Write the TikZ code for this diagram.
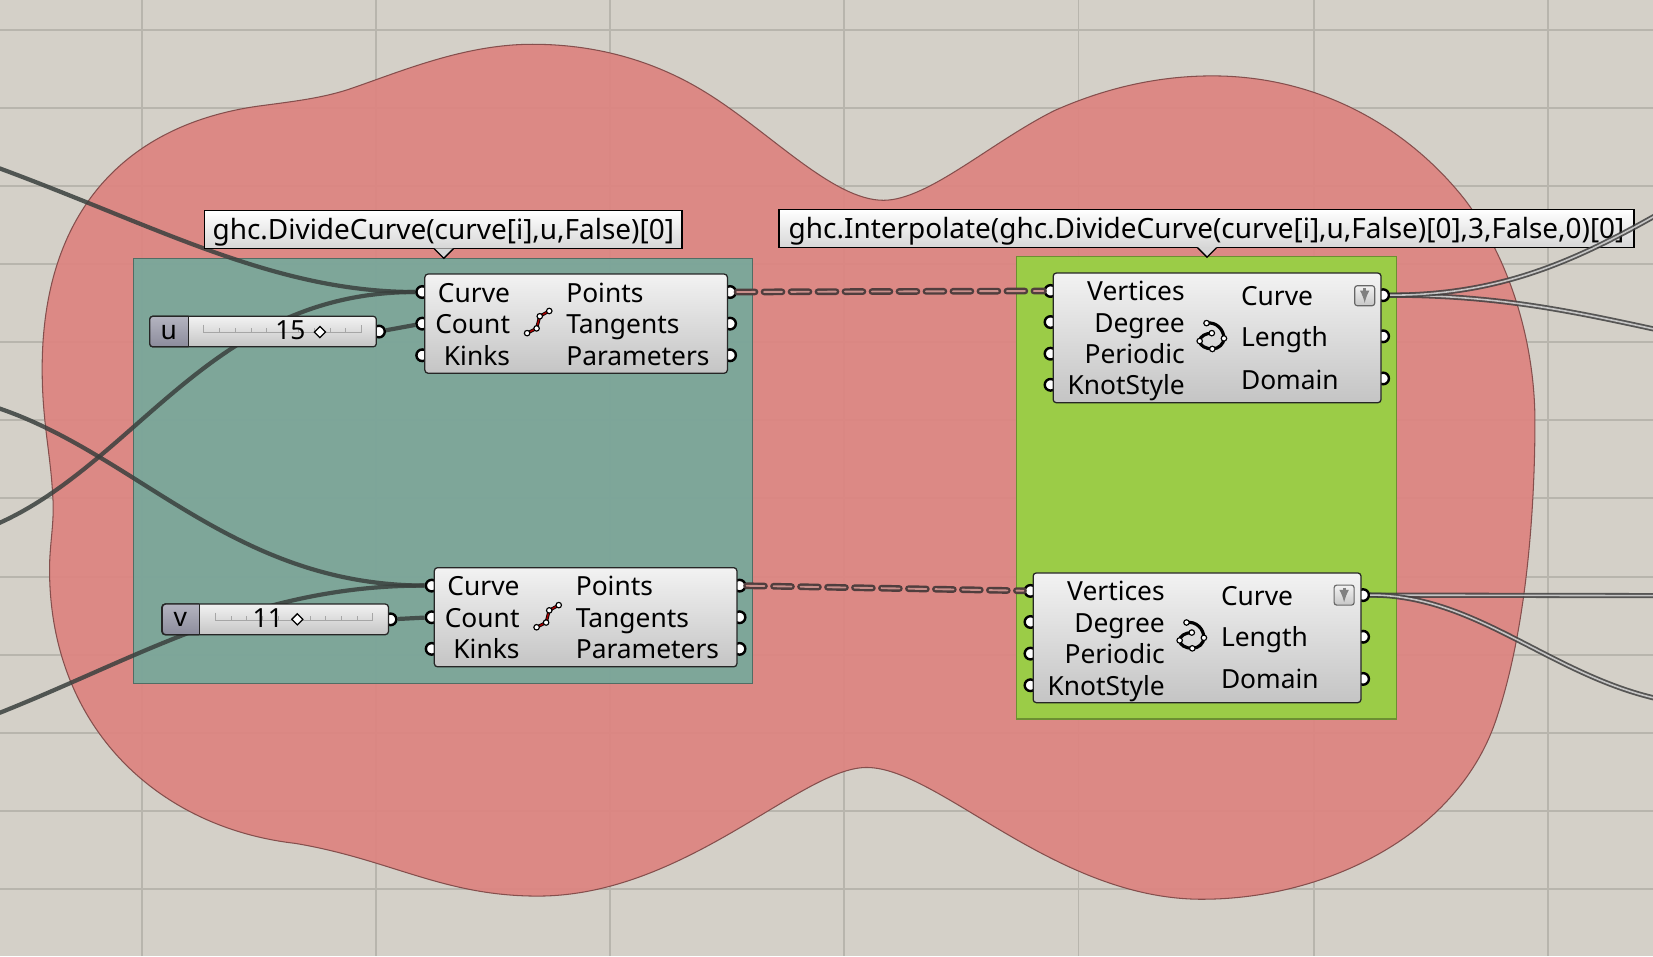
\documentclass[tikz,border=0pt]{standalone}
\usepackage{fontspec}
\setmainfont{Noto Sans}
\usepackage{tikz}
\usetikzlibrary{shapes.geometric}
\definecolor{canvas}{HTML}{D4D0C8}
\definecolor{gridline}{HTML}{B8B5AD}
\definecolor{blobred}{HTML}{DD8480}
\definecolor{tealgroup}{HTML}{7BA79A}
\definecolor{greengroup}{HTML}{9BCC47}
\definecolor{wiredark}{HTML}{3A403E}
\definecolor{dashdark}{HTML}{503E3E}
\definecolor{dashpale}{HTML}{C88F8B}
\definecolor{tagtop}{HTML}{B4B4C0}
\definecolor{tagbottom}{HTML}{8C8C9C}
\tikzset{
  gridrule/.style={gridline,line width=1.8pt},
  compbox/.style={draw=black!85,line width=1.2pt,rounded corners=3pt,top color=black!5,bottom color=black!23,inner sep=0pt},
  sliderbox/.style={compbox,minimum width=215pt,minimum height=29pt},
  portdot/.style={circle,draw=black,line width=2.3pt,fill=white,minimum size=11pt,inner sep=0pt},
  wire/.style={wiredark,line width=4pt,opacity=.85},
  dashwire/.style={draw=dashdark,double=dashpale,line width=2.3pt,double distance=1.8pt,line cap=round,dash pattern=on 17pt off 8.6pt},
  outwire/.style={draw=black!75,double=black!15,line width=1.7pt,double distance=1.5pt,opacity=.85},
  intext/.style={font=\fontsize{25}{25}\selectfont,anchor=east,inner sep=0pt,text height=22pt,text depth=3pt},
  outtext/.style={intext,anchor=west},
  tiptext/.style={draw=black,line width=1.2pt,top color=white,bottom color=black!16,inner sep=0pt,font=\fontsize{26.5}{26.5}\selectfont,text height=23pt,text depth=4pt},
  slidertext/.style={font=\fontsize{25}{25}\selectfont,inner sep=0pt},
  knob/.style={diamond,draw=black,line width=1.2pt,fill=white,minimum size=11pt,inner sep=0pt},
  tickmark/.style={black!35,line width=.7pt},
  icondot/.style={draw=black,fill=white,line width=1.1pt},
  savebtn/.style={draw=black!60,line width=1.1pt,rounded corners=2.5pt,top color=black!5,bottom color=black!22,minimum size=19pt,inner sep=0pt},
}
\begin{document}
\begin{tikzpicture}[x=1pt,y=-1pt]
\useasboundingbox (0,0) rectangle (1568,907);
\fill[canvas] (0,0) rectangle (1568,907);
% canvas grid
\draw[gridrule] (134.5,0) -- (134.5,907);
\draw[gridrule] (357,0) -- (357,907);
\draw[gridrule] (579,0) -- (579,907);
\draw[gridrule] (801,0) -- (801,907);
\draw[gridrule] (1023,0) -- (1023,907);
\draw[gridrule] (1246,0) -- (1246,907);
\draw[gridrule] (1468,0) -- (1468,907);
\draw[gridrule] (0,28.5) -- (1568,28.5);
\draw[gridrule] (0,102.5) -- (1568,102.5);
\draw[gridrule] (0,176.5) -- (1568,176.5);
\draw[gridrule] (0,250.5) -- (1568,250.5);
\draw[gridrule] (0,324.5) -- (1568,324.5);
\draw[gridrule] (0,398.5) -- (1568,398.5);
\draw[gridrule] (0,472.5) -- (1568,472.5);
\draw[gridrule] (0,547) -- (1568,547);
\draw[gridrule] (0,621) -- (1568,621);
\draw[gridrule] (0,695) -- (1568,695);
\draw[gridrule] (0,769) -- (1568,769);
\draw[gridrule] (0,843) -- (1568,843);
% red blob
\draw[draw=black!40!blobred,line width=1pt,fill=blobred,fill opacity=.93] (505,42)
  .. controls (570,42) and (625,60) .. (670,88)
  .. controls (730,125) and (790,190) .. (838,190)
  .. controls (880,190) and (940,135) .. (1000,105)
  .. controls (1045,85) and (1095,72) .. (1150,72)
  .. controls (1250,72) and (1335,120) .. (1390,190)
  .. controls (1435,250) and (1456,330) .. (1456,400)
  .. controls (1456,470) and (1450,590) .. (1420,680)
  .. controls (1385,790) and (1260,853) .. (1140,853)
  .. controls (1000,853) and (890,728) .. (822,728)
  .. controls (760,728) and (650,850) .. (510,850)
  .. controls (420,850) and (370,815) .. (280,800)
  .. controls (150,785) and (47,690) .. (47,540)
  .. controls (47,515) and (52,495) .. (50,470)
  .. controls (48,430) and (40,400) .. (40,350)
  .. controls (40,190) and (130,115) .. (250,100)
  .. controls (280,96) and (305,93) .. (330,85)
  .. controls (380,68) and (440,42) .. (505,42) -- cycle;
% groups
\draw[draw=black!35!tealgroup,line width=1pt,fill=tealgroup,fill opacity=.97] (127,245) rectangle (714,648);
\draw[draw=black!30!greengroup,line width=1pt,fill=greengroup] (964,243) rectangle (1325,682);
% ports
\node[portdot] (ucurve) at (400.5,277) {};
\node[portdot] (ucount) at (400.5,307) {};
\node[portdot] (ukinks) at (400.5,337) {};
\node[portdot] (upoints) at (692.5,277) {};
\node[portdot] (utangents) at (692.5,307) {};
\node[portdot] (uparams) at (692.5,337) {};
\node[portdot] (vcurve) at (409.5,555.5) {};
\node[portdot] (vcount) at (409.5,585.5) {};
\node[portdot] (vkinks) at (409.5,615.5) {};
\node[portdot] (vpoints) at (701.5,555.5) {};
\node[portdot] (vtangents) at (701.5,585.5) {};
\node[portdot] (vparams) at (701.5,615.5) {};
\node[portdot] (avertices) at (996.5,276) {};
\node[portdot] (adegree) at (996.5,305.5) {};
\node[portdot] (aperiodic) at (996.5,335.5) {};
\node[portdot] (aknot) at (996.5,365) {};
\node[portdot] (acurve) at (1312,280) {};
\node[portdot] (alength) at (1312,319) {};
\node[portdot] (adomain) at (1312,359) {};
\node[portdot] (bvertices) at (977.5,560.5) {};
\node[portdot] (bdegree) at (977.5,590) {};
\node[portdot] (bperiodic) at (977.5,620) {};
\node[portdot] (bknot) at (977.5,650) {};
\node[portdot] (bcurve) at (1293,564.5) {};
\node[portdot] (blength) at (1293,604) {};
\node[portdot] (bdomain) at (1293,644) {};
\node[portdot] (uout) at (359.5,314.5) {};
\node[portdot] (vout) at (370.5,587.5) {};
% free wire ends
\coordinate (curveintop) at (-5,158);
\coordinate (curveinmid) at (-5,386);
\coordinate (curveinlow) at (-5,498);
\coordinate (curveinbot) at (-5,678);
\coordinate (outa) at (1573,203);
\coordinate (outb) at (1573,313);
\coordinate (outc) at (1573,565);
\coordinate (outd) at (1573,663);
% wires
\draw[wire] (curveintop) .. controls (150,215) and (260,277) .. (ucurve);
\draw[wire] (curveinlow) .. controls (130,440) and (200,277) .. (ucurve);
\draw[wire] (curveinmid) .. controls (130,430) and (220,555) .. (vcurve);
\draw[wire] (curveinbot) .. controls (130,625) and (240,555) .. (vcurve);
\draw[wire] (uout) -- (ucount);
\draw[wire] (vout) -- (vcount);
\draw[dashwire] (upoints) -- (avertices);
\draw[dashwire] (vpoints) -- (bvertices);
\draw[outwire] (acurve) .. controls (1420,280) and (1490,295) .. (outb);
\draw[outwire] (bcurve) -- (outc);
\draw[outwire] (bcurve) .. controls (1400,564) and (1470,640) .. (outd);
% components
\node[compbox,minimum width=287pt,minimum height=94pt] (divideu) at (546.5,307) {};
\node[compbox,minimum width=287pt,minimum height=94pt] (dividev) at (555.5,585.5) {};
\node[compbox,minimum width=311pt,minimum height=123pt] (interpa) at (1154.5,320.5) {};
\node[compbox,minimum width=311pt,minimum height=123pt] (interpb) at (1135.5,605) {};
% sliders
\node[sliderbox] (slideru) at (249.5,314.5) {};
\node[sliderbox] (sliderv) at (261,587.5) {};
\draw[draw=black!85,line width=1.2pt,top color=tagtop,bottom color=tagbottom,rounded corners=3pt] (179,300) -- (142,300) -- (142,329) -- (179,329);
\draw[draw=black!85,line width=1.2pt] (179,300) -- (179,329);
\draw[draw=black!85,line width=1.2pt,top color=tagtop,bottom color=tagbottom,rounded corners=3pt] (189,573) -- (154,573) -- (154,602) -- (189,602);
\draw[draw=black!85,line width=1.2pt] (189,573) -- (189,602);
\draw[tickmark] (193,308) |- (343,315) -- (343,308);
\draw[tickmark] (208,315) -- (208,311) (223,315) -- (223,311) (238,315) -- (238,311) (253,315) -- (253,311) (268,315) -- (268,311) (283,315) -- (283,311) (298,315) -- (298,311) (313,315) -- (313,311) (328,315) -- (328,311);
\draw[tickmark] (204,581) |- (353,588) -- (353,581);
\draw[tickmark] (219,588) -- (219,584) (234,588) -- (234,584) (249,588) -- (249,584) (264,588) -- (264,584) (279,588) -- (279,584) (294,588) -- (294,584) (309,588) -- (309,584) (324,588) -- (324,584) (339,588) -- (339,584);
\node[slidertext] (ulabel) at (160,315) {u};
\node[slidertext] (uvalue) at (275.5,313) {15};
\node[knob] (uknob) at (303.5,315) {};
\node[slidertext] (vlabel) at (171,588) {v};
\node[slidertext] (vvalue) at (254,586) {11};
\node[knob] (vknob) at (282,587.5) {};
% texts of the components
\node[intext] (tucurve) at (484,277) {Curve};
\node[intext] (tucount) at (484,307) {Count};
\node[intext] (tukinks) at (484,337) {Kinks};
\node[outtext] (tupoints) at (537,277) {Points};
\node[outtext] (tutangents) at (537,307) {Tangents};
\node[outtext] (tuparams) at (537,337) {Parameters};
\node[intext] (tvcurve) at (493,555.5) {Curve};
\node[intext] (tvcount) at (493,585.5) {Count};
\node[intext] (tvkinks) at (493,615.5) {Kinks};
\node[outtext] (tvpoints) at (546,555.5) {Points};
\node[outtext] (tvtangents) at (546,585.5) {Tangents};
\node[outtext] (tvparams) at (546,615.5) {Parameters};
\node[intext] (tavertices) at (1124,276) {Vertices};
\node[intext] (tadegree) at (1124,305.5) {Degree};
\node[intext] (taperiodic) at (1124,335.5) {Periodic};
\node[intext] (taknot) at (1124,365) {KnotStyle};
\node[outtext] (tacurve) at (1177,280) {Curve};
\node[outtext] (talength) at (1177,319.5) {Length};
\node[outtext] (tadomain) at (1177,359.5) {Domain};
\node[intext] (tbvertices) at (1105,560.5) {Vertices};
\node[intext] (tbdegree) at (1105,590) {Degree};
\node[intext] (tbperiodic) at (1105,620) {Periodic};
\node[intext] (tbknot) at (1105,650) {KnotStyle};
\node[outtext] (tbcurve) at (1158,564.5) {Curve};
\node[outtext] (tblength) at (1158,604) {Length};
\node[outtext] (tbdomain) at (1158,644) {Domain};
% divide icons
\draw[black,line width=3pt] (500,316) -- (509,311.5) -- (512,300) -- (521,295);
\draw[red!65!black,line width=1.4pt] (500,316) -- (509,311.5) -- (512,300) -- (521,295);
\draw[icondot] (500,316) circle(2.6);
\draw[icondot] (509,311.5) circle(2.6);
\draw[icondot] (512,300) circle(2.6);
\draw[icondot] (521,295) circle(2.6);
\draw[black,line width=3pt] (509,595) -- (518,590.5) -- (521,579) -- (530,574);
\draw[red!65!black,line width=1.4pt] (509,595) -- (518,590.5) -- (521,579) -- (530,574);
\draw[icondot] (509,595) circle(2.6);
\draw[icondot] (518,590.5) circle(2.6);
\draw[icondot] (521,579) circle(2.6);
\draw[icondot] (530,574) circle(2.6);
% interpolate icons
\draw[black,line width=3pt] (1144.5,306.5) .. controls (1154,305) and (1161,313) .. (1161,321) .. controls (1161,326) and (1156,331) .. (1150,331) .. controls (1144,331) and (1138,328) .. (1138,323.5) .. controls (1138,319) and (1144,316) .. (1149.5,316);
\draw[icondot] (1144.5,306.5) circle(2.6);
\draw[icondot] (1149.5,316) circle(2.6);
\draw[icondot] (1161,321) circle(2.6);
\draw[icondot] (1150,331) circle(2.6);
\draw[icondot] (1138,323.5) circle(2.6);
\draw[black,line width=3pt] (1125.5,590.5) .. controls (1135,589) and (1142,597) .. (1142,605) .. controls (1142,610) and (1137,615) .. (1131,615) .. controls (1125,615) and (1119,612) .. (1119,607.5) .. controls (1119,603) and (1125,600) .. (1130.5,600);
\draw[icondot] (1125.5,590.5) circle(2.6);
\draw[icondot] (1130.5,600) circle(2.6);
\draw[icondot] (1142,605) circle(2.6);
\draw[icondot] (1131,615) circle(2.6);
\draw[icondot] (1119,607.5) circle(2.6);
% save buttons
\node[savebtn] (savea) at (1294.5,280.5) {};
\node[savebtn] (saveb) at (1275,564.5) {};
\draw[black!50,line width=3pt,-latex] (savea.north) ++(0,3) -- ++(0,14);
\draw[black!50,line width=3pt,-latex] (saveb.north) ++(0,3) -- ++(0,14);
% tooltips
\node[tiptext,minimum width=453pt,minimum height=36pt] (tipdivide) at (420.5,218) {ghc.DivideCurve(curve[i],u,False)[0]};
\node[tiptext,minimum width=811pt,minimum height=36pt] (tipinterp) at (1144.5,217) {ghc.Interpolate(ghc.DivideCurve(curve[i],u,False)[0],3,False,0)[0]};
\fill[black!16] (412,235.5) -- (421,245) -- (430,235.5) -- cycle;
\draw[line width=1.2pt] (412,236) -- (421,245) -- (430,236);
\fill[black!16] (1136,234.5) -- (1145,244) -- (1154,234.5) -- cycle;
\draw[line width=1.2pt] (1136,235) -- (1145,244) -- (1154,235);
% this wire runs over the tooltip
\draw[outwire] (acurve) .. controls (1420,280) and (1490,250) .. (outa);
\end{tikzpicture}
\end{document}
